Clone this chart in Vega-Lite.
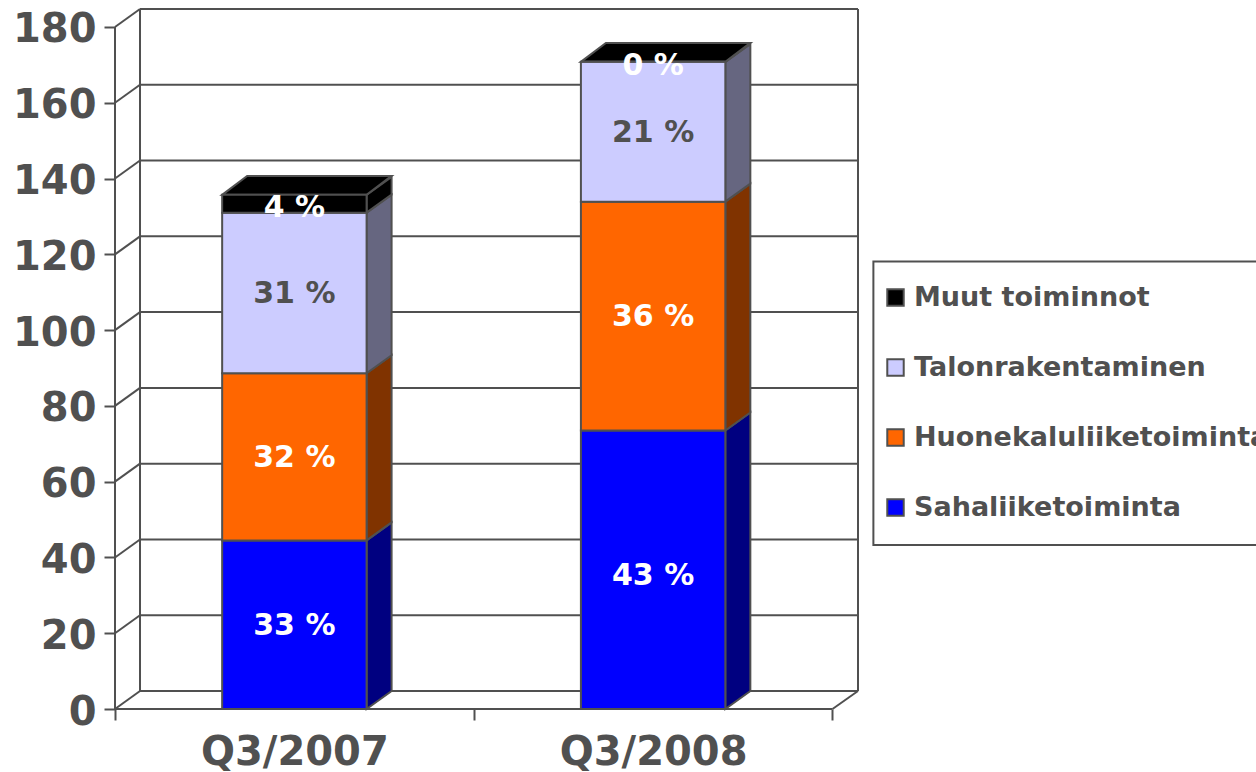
{"$schema":"https://vega.github.io/schema/vega-lite/v6.json","width":743,"height":700,"autosize":"none","padding":{"left":115,"top":9,"right":398,"bottom":63},"background":"white",
"config":{"view":{"stroke":null},"font":"DejaVu Sans"},
"datasets":{"bars":[
{"q":"Q3/2007","seg":"Sahaliiketoiminta","y0":0,"y1":44.5,"pct":"33 %"},
{"q":"Q3/2007","seg":"Huonekaluliiketoiminta","y0":44.5,"y1":88.6,"pct":"32 %"},
{"q":"Q3/2007","seg":"Talonrakentaminen","y0":88.6,"y1":131,"pct":"31 %"},
{"q":"Q3/2007","seg":"Muut toiminnot","y0":131,"y1":135.7,"pct":"4 %"},
{"q":"Q3/2008","seg":"Sahaliiketoiminta","y0":0,"y1":73.5,"pct":"43 %"},
{"q":"Q3/2008","seg":"Huonekaluliiketoiminta","y0":73.5,"y1":133.9,"pct":"36 %"},
{"q":"Q3/2008","seg":"Talonrakentaminen","y0":133.9,"y1":170.8,"pct":"21 %"},
{"q":"Q3/2008","seg":"Muut toiminnot","y0":170.8,"y1":170.8,"pct":"0 %"}],
"grid":[{"v":0},{"v":20},{"v":40},{"v":60},{"v":80},{"v":100},{"v":120},{"v":140},{"v":160},{"v":180}],
"frame":[{"px":0,"py":0,"px2":0,"py2":180},{"px":0,"py":0,"px2":2,"py2":0},{"px":0.0697,"py":4.75,"px2":0.0697,"py2":184.75},{"px":2.0711,"py":4.75,"px2":2.0711,"py2":184.75},{"px":2,"py":0,"px2":2.0711,"py2":4.75}],
"legendbox":[{"px":2.114,"px2":3.2,"py":118.1,"py2":43.3}]},
"encoding":{
"x":{"field":"px","type":"quantitative","title":null,"scale":{"domain":[0,2.0711],"nice":false,"zero":false},
"axis":{"values":[0,0.5,1,1.5,2],"labelExpr":"datum.value==0.5?'Q3/2007':datum.value==1.5?'Q3/2008':''","domain":false,"grid":false,"tickSize":11,"tickWidth":2,"tickColor":"#505050","tickOpacity":{"condition":{"test":"datum.value==0.5||datum.value==1.5","value":0},"value":1},"labelFontSize":40,"labelFontWeight":"bold","labelColor":"#505050","labelFont":"DejaVu Sans","labelPadding":12,"labelOverlap":false,"labelFlush":false,"labelBound":false,"labelLimit":400}},
"y":{"field":"py","type":"quantitative","title":null,"scale":{"domain":[0,184.75],"nice":false,"zero":false},
"axis":{"values":[0,20,40,60,80,100,120,140,160,180],"domain":false,"grid":false,"tickSize":11,"tickWidth":2,"tickColor":"#505050","labelFontSize":40,"labelFontWeight":"bold","labelColor":"#505050","labelFont":"DejaVu Sans","labelPadding":8,"labelOffset":3,"labelOverlap":false,"labelFlush":false,"labelBound":false,"format":"d"}}
},
"resolve":{"scale":{"fill":"independent"}},
"layer":[
{"data":{"name":"grid"},"transform":[{"calculate":"0","as":"px"},{"calculate":"0.0697","as":"px2"},{"calculate":"datum.v","as":"py"},{"calculate":"datum.v+4.75","as":"py2"}],"mark":{"type":"rule","stroke":"#505050","strokeWidth":2},"encoding":{"x2":{"field":"px2"},"y2":{"field":"py2"}}},
{"data":{"name":"grid"},"transform":[{"calculate":"0.0697","as":"px"},{"calculate":"2.0711","as":"px2"},{"calculate":"datum.v+4.75","as":"py"},{"calculate":"datum.v+4.75","as":"py2"}],"mark":{"type":"rule","stroke":"#505050","strokeWidth":2},"encoding":{"x2":{"field":"px2"},"y2":{"field":"py2"}}},
{"data":{"name":"frame"},"mark":{"type":"rule","stroke":"#505050","strokeWidth":2},"encoding":{"x2":{"field":"px2"},"y2":{"field":"py2"}}},
{"data":{"name":"legendbox"},"mark":{"type":"rect","filled":false,"stroke":"#505050","strokeWidth":2},"encoding":{"x2":{"field":"px2"},"y2":{"field":"py2"}}},
{"data":{"name":"bars"},"transform":[{"calculate":"datum.q==='Q3/2007'?0.5:1.5","as":"xc"},{"calculate":"[0,1]","as":"k"},{"flatten":["k"]},{"calculate":"datum.xc+0.2013+datum.k*0.0697","as":"px"},{"calculate":"datum.y0+datum.k*4.75","as":"py"},{"calculate":"datum.y1+datum.k*4.75","as":"py2"}],
"mark":{"type":"area","stroke":"#505050","strokeWidth":2,"interpolate":"linear"},
"encoding":{"y2":{"field":"py2"},"detail":{"field":"q"},"fill":{"field":"seg","type":"nominal","legend":null,"scale":{"domain":["Muut toiminnot","Talonrakentaminen","Huonekaluliiketoiminta","Sahaliiketoiminta"],"range":["#000000","#666680","#803300","#000080"]}}}},
{"data":{"name":"bars"},"transform":[{"filter":"datum.seg==='Muut toiminnot'"},{"calculate":"datum.q==='Q3/2007'?0.5:1.5","as":"xc"},{"calculate":"[0,1,2,3]","as":"k"},{"flatten":["k"]},{"calculate":"[datum.xc-0.2013,datum.xc-0.2013+0.0697,datum.xc+0.2013,datum.xc+0.2013+0.0697][datum.k]","as":"px"},{"calculate":"datum.y1+[0,0,0,5][datum.k]","as":"py"},{"calculate":"datum.y1+[0,5,5,5][datum.k]","as":"py2"}],
"mark":{"type":"area","fill":"#000000","stroke":"#505050","strokeWidth":2,"interpolate":"linear"},
"encoding":{"y2":{"field":"py2"},"detail":{"field":"q"}}},
{"data":{"name":"bars"},"transform":[{"calculate":"(datum.q==='Q3/2007'?0.5:1.5)-0.2013","as":"px"},{"calculate":"(datum.q==='Q3/2007'?0.5:1.5)+0.2013","as":"px2"},{"calculate":"datum.y0","as":"py"},{"calculate":"datum.y1","as":"py2"}],
"mark":{"type":"rect","stroke":"#505050","strokeWidth":2},
"encoding":{"x2":{"field":"px2"},"y2":{"field":"py2"},"fill":{"field":"seg","type":"nominal","scale":{"domain":["Muut toiminnot","Talonrakentaminen","Huonekaluliiketoiminta","Sahaliiketoiminta"],"range":["#000000","#CCCCFF","#FF6600","#0000FF"]},
"legend":{"title":null,"orient":"none","legendX":767,"legendY":275,"padding":0,"symbolType":"square","symbolSize":270,"symbolStrokeColor":"#505050","symbolStrokeWidth":2,"labelFont":"DejaVu Sans","labelFontSize":27,"labelFontWeight":"bold","labelColor":"#505050","labelOffset":5,"rowPadding":42,"labelLimit":600}}}},
{"data":{"name":"bars"},"transform":[{"filter":"datum.seg!=='Muut toiminnot'&&datum.pct!=='43 %'"},{"calculate":"datum.q==='Q3/2007'?0.5:1.5","as":"px"},{"calculate":"(datum.y0+datum.y1)/2","as":"py"}],
"mark":{"type":"text","fontSize":30,"fontWeight":"bold","font":"DejaVu Sans","align":"center","baseline":"middle","dy":1},
"encoding":{"text":{"field":"pct"},"fill":{"condition":{"test":"datum.seg==='Talonrakentaminen'","value":"#505050"},"value":"#FFFFFF"}}},
{"data":{"name":"bars"},"transform":[{"filter":"datum.seg==='Muut toiminnot'"},{"calculate":"datum.q==='Q3/2007'?0.5:1.5","as":"px"},{"calculate":"(datum.y0+datum.y1)/2","as":"py"}],
"mark":{"type":"text","fontSize":30,"fontWeight":"bold","font":"DejaVu Sans","align":"center","baseline":"middle","dy":4,"fill":"#FFFFFF"},
"encoding":{"text":{"field":"pct"}}},
{"data":{"name":"bars"},"transform":[{"filter":"datum.pct==='43 %'"},{"calculate":"1.5","as":"px"},{"calculate":"(datum.y0+datum.y1)/2","as":"py"}],
"mark":{"type":"text","fontSize":30,"fontWeight":"bold","font":"DejaVu Sans","align":"center","baseline":"middle","dy":6,"fill":"#FFFFFF"},
"encoding":{"text":{"field":"pct"}}}
]}
